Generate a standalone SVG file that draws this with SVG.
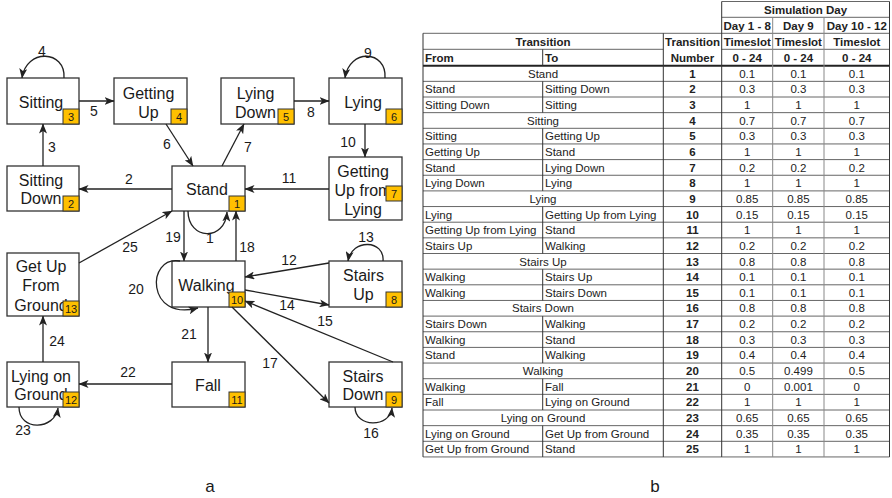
<svg xmlns="http://www.w3.org/2000/svg" width="892" height="498" viewBox="0 0 892 498">
  <style>
    .box { fill: #fff; stroke: #333; stroke-width: 1.3; }
    .badge { fill: #FFC000; stroke: #333; stroke-width: 1; }
    .lbl { font-family: "Liberation Sans", Arial, sans-serif; font-size: 16px; fill: #1a1a1a; text-anchor: middle; }
    .bn { font-family: "Liberation Sans", Arial, sans-serif; font-size: 11px; fill: #1a1a1a; text-anchor: middle; }
    .edge { fill: none; stroke: #222; stroke-width: 1.3; marker-end: url(#arr); }
    .el { font-family: "Liberation Sans", Arial, sans-serif; font-size: 14px; fill: #1a1a1a; text-anchor: middle; }
    .cap { font-family: "Liberation Sans", Arial, sans-serif; font-size: 17px; fill: #1a1a1a; text-anchor: middle; }
    .t { font-family: "Liberation Sans", Arial, sans-serif; font-size: 11.5px; fill: #222; }
    .tc { text-anchor: middle; }
    .b { font-weight: bold; }
    .hl { fill: none; stroke: #666; stroke-width: 1; }
    .vd { fill: none; stroke: #333; stroke-width: 1; }
    .vl { fill: none; stroke: #888; stroke-width: 1; }
  </style>
  <defs>
    <marker id="arr" viewBox="0 0 10 8" refX="9.5" refY="4" markerWidth="10" markerHeight="8" orient="auto" markerUnits="userSpaceOnUse">
      <path d="M0,0 L10,4 L0,8 L2.5,4 Z" fill="#222"/>
    </marker>
  </defs>
  <rect width="892" height="498" fill="#fff"/>

  <!-- state machine nodes -->
  <g id="n-sitting">
    <rect class="box" x="7" y="78" width="72" height="46"/>
    <text class="lbl" x="41" y="108">Sitting</text>
    <rect class="badge" x="63" y="109" width="16" height="15"/>
    <text class="bn" x="71" y="120.5">3</text>
  </g>
  <g id="n-getting-up">
    <rect class="box" x="114" y="78" width="73" height="46"/>
    <text class="lbl" x="148.5" y="98.5">Getting</text>
    <text class="lbl" x="148.5" y="117.5">Up</text>
    <rect class="badge" x="171" y="109" width="16" height="15"/>
    <text class="bn" x="179" y="120.5">4</text>
  </g>
  <g id="n-lying-down">
    <rect class="box" x="221" y="78" width="73" height="46"/>
    <text class="lbl" x="255.5" y="98.5">Lying</text>
    <text class="lbl" x="255.5" y="117.5">Down</text>
    <rect class="badge" x="278" y="109" width="16" height="15"/>
    <text class="bn" x="286" y="120.5">5</text>
  </g>
  <g id="n-lying">
    <rect class="box" x="329" y="78" width="73" height="46"/>
    <text class="lbl" x="363" y="108">Lying</text>
    <rect class="badge" x="386" y="109" width="16" height="15"/>
    <text class="bn" x="394" y="120.5">6</text>
  </g>
  <g id="n-sitting-down">
    <rect class="box" x="7" y="166" width="72" height="45"/>
    <text class="lbl" x="41" y="185.5">Sitting</text>
    <text class="lbl" x="41" y="204">Down</text>
    <rect class="badge" x="63" y="196" width="16" height="15"/>
    <text class="bn" x="71" y="207.5">2</text>
  </g>
  <g id="n-stand">
    <rect class="box" x="172" y="166" width="73" height="45"/>
    <text class="lbl" x="207" y="195">Stand</text>
    <rect class="badge" x="229" y="196" width="16" height="15"/>
    <text class="bn" x="237" y="207.5">1</text>
  </g>
  <g id="n-getting-up-from-lying">
    <rect class="box" x="329" y="157" width="73" height="63"/>
    <text class="lbl" x="363" y="176.5">Getting</text>
    <text class="lbl" x="363" y="195.5">Up from</text>
    <text class="lbl" x="363" y="214.5">Lying</text>
    <rect class="badge" x="386" y="186" width="16" height="15"/>
    <text class="bn" x="394" y="197.5">7</text>
  </g>
  <g id="n-get-up-from-ground">
    <rect class="box" x="7" y="253" width="72" height="63"/>
    <text class="lbl" x="41" y="271.5">Get Up</text>
    <text class="lbl" x="41" y="291">From</text>
    <text class="lbl" x="41" y="310.5">Ground</text>
    <rect class="badge" x="63" y="301" width="16" height="15"/>
    <text class="bn" x="71" y="312.5">13</text>
  </g>
  <g id="n-walking">
    <rect class="box" x="172" y="261" width="73" height="46"/>
    <text class="lbl" x="206.5" y="291">Walking</text>
    <rect class="badge" x="229" y="292" width="16" height="15"/>
    <text class="bn" x="237" y="303.5">10</text>
  </g>
  <g id="n-stairs-up">
    <rect class="box" x="329" y="261" width="73" height="46"/>
    <text class="lbl" x="363.5" y="281">Stairs</text>
    <text class="lbl" x="363.5" y="300">Up</text>
    <rect class="badge" x="386" y="292" width="16" height="15"/>
    <text class="bn" x="394" y="303.5">8</text>
  </g>
  <g id="n-lying-on-ground">
    <rect class="box" x="7" y="362" width="72" height="45"/>
    <text class="lbl" x="41" y="381.5">Lying on</text>
    <text class="lbl" x="41" y="400">Ground</text>
    <rect class="badge" x="63" y="392" width="16" height="15"/>
    <text class="bn" x="71" y="403.5">12</text>
  </g>
  <g id="n-fall">
    <rect class="box" x="172" y="362" width="73" height="45"/>
    <text class="lbl" x="208" y="390.5">Fall</text>
    <rect class="badge" x="229" y="392" width="16" height="15"/>
    <text class="bn" x="237" y="403.5">11</text>
  </g>
  <g id="n-stairs-down">
    <rect class="box" x="329" y="362" width="73" height="45"/>
    <text class="lbl" x="363" y="381.5">Stairs</text>
    <text class="lbl" x="363" y="400">Down</text>
    <rect class="badge" x="386" y="392" width="16" height="15"/>
    <text class="bn" x="394" y="403.5">9</text>
  </g>

  <!-- transitions -->
  <g id="connectors">
    <path class="edge" d="M172,189 L79,189"/>
    <path class="edge" d="M43,166 L43,124"/>
    <path class="edge" d="M64,78 C66,50 26,48 22,78"/>
    <path class="edge" d="M79,101 L114,101"/>
    <path class="edge" d="M166,124 L193,166"/>
    <path class="edge" d="M222,166 L244,124"/>
    <path class="edge" d="M294,101 L329,101"/>
    <path class="edge" d="M385,78 C387,50 349,48 345,78"/>
    <path class="edge" d="M365,124 L365,157"/>
    <path class="edge" d="M329,189 L245,189"/>
    <path class="edge" d="M188,211 C188,240 225,242 227,212"/>
    <path class="edge" d="M329,263 L245,277"/>
    <path class="edge" d="M383,261 C385,240 352,238 348,261"/>
    <path class="edge" d="M245,290 L329,305"/>
    <path class="edge" d="M393,362 L245,301"/>
    <path class="edge" d="M355,407 C355,428 390,428 392,408"/>
    <path class="edge" d="M232,307 L329,403"/>
    <path class="edge" d="M236,261 L236,211"/>
    <path class="edge" d="M184,211 L184,261"/>
    <path class="edge" d="M180,261 C146,255 146,322 198,308"/>
    <path class="edge" d="M208,307 L208,362"/>
    <path class="edge" d="M172,384 L79,384"/>
    <path class="edge" d="M19,407 C19,432 55,430 58,408"/>
    <path class="edge" d="M43,362 L43,316"/>
    <path class="edge" d="M79,263 L172,211"/>

    <text class="el" x="129" y="184">2</text>
    <text class="el" x="52" y="152">3</text>
    <text class="el" x="42" y="56">4</text>
    <text class="el" x="94" y="116">5</text>
    <text class="el" x="167" y="149">6</text>
    <text class="el" x="248" y="152">7</text>
    <text class="el" x="311" y="117">8</text>
    <text class="el" x="368" y="58">9</text>
    <text class="el" x="348" y="147">10</text>
    <text class="el" x="289" y="183">11</text>
    <text class="el" x="210" y="243">1</text>
    <text class="el" x="289" y="265">12</text>
    <text class="el" x="366" y="242">13</text>
    <text class="el" x="287" y="310">14</text>
    <text class="el" x="325" y="326">15</text>
    <text class="el" x="371" y="438">16</text>
    <text class="el" x="270" y="368">17</text>
    <text class="el" x="247" y="252">18</text>
    <text class="el" x="173" y="242">19</text>
    <text class="el" x="136" y="294">20</text>
    <text class="el" x="189" y="339">21</text>
    <text class="el" x="128" y="377">22</text>
    <text class="el" x="23" y="435">23</text>
    <text class="el" x="57" y="346">24</text>
    <text class="el" x="130" y="252">25</text>
  </g>

  <text class="cap" x="210" y="492">a</text>
  <text class="cap" x="655" y="492">b</text>

  <!-- transition probability table -->
  <g id="table">
    <!-- horizontal rules -->
    <path class="hl" d="M721.7,1.5 H889.5 M721.7,17.3 H889.5 M423,33.3 H889.5 M423,49.3 H663.3 M721.7,49.3 H889.5
      M423,81.35 H889.5 M423,97 H889.5 M423,112.65 H889.5 M423,128.3 H889.5 M423,143.95 H889.5
      M423,159.6 H889.5 M423,175.25 H889.5 M423,190.9 H889.5 M423,206.55 H889.5 M423,222.2 H889.5
      M423,237.85 H889.5 M423,253.5 H889.5 M423,269.15 H889.5 M423,284.8 H889.5 M423,300.45 H889.5
      M423,316.1 H889.5 M423,331.75 H889.5 M423,347.4 H889.5 M423,363.05 H889.5 M423,378.7 H889.5
      M423,394.35 H889.5 M423,410 H889.5 M423,425.65 H889.5 M423,441.3 H889.5 M423,456.95 H889.5"/>
    <path d="M423,65.7 H889.5" fill="none" stroke="#222" stroke-width="2"/>
    <!-- vertical rules -->
    <path class="vd" d="M423,33.3 V456.95 M663.3,33.3 V456.95 M721.7,1.5 V456.95 M889.5,1.5 V456.95"/>
    <path class="vl" d="M772.7,17.3 V456.95 M824,17.3 V456.95"/>
    <path class="vd" d="M542.7,49.3 V65.7 M542.7,81.35 V112.65 M542.7,128.3 V190.9 M542.7,206.55 V253.5
      M542.7,269.15 V300.45 M542.7,316.1 V363.05 M542.7,378.7 V410 M542.7,425.65 V456.95"/>

    <!-- header -->
    <text class="t b tc" x="805.6" y="13.5">Simulation Day</text>
    <text class="t b tc" x="747.2" y="29.5">Day 1 - 8</text>
    <text class="t b tc" x="798.4" y="29.5">Day 9</text>
    <text class="t b tc" x="856.8" y="29.5">Day 10 - 12</text>
    <text class="t b tc" x="543" y="45.5">Transition</text>
    <text class="t b" x="425" y="61.5">From</text>
    <text class="t b" x="545" y="61.5">To</text>
    <text class="t b tc" x="692.5" y="45.5">Transition</text>
    <text class="t b tc" x="692.5" y="61.5">Number</text>
    <text class="t b tc" x="747.2" y="45.5">Timeslot</text>
    <text class="t b tc" x="798.4" y="45.5">Timeslot</text>
    <text class="t b tc" x="856.8" y="45.5">Timeslot</text>
    <text class="t b tc" x="747.2" y="61.5">0 - 24</text>
    <text class="t b tc" x="798.4" y="61.5">0 - 24</text>
    <text class="t b tc" x="856.8" y="61.5">0 - 24</text>

    <!-- row 1 -->
    <text class="t tc" x="543" y="77.7">Stand</text>
    <text class="t b tc" x="692.5" y="77.7">1</text>
    <text class="t tc" x="747.2" y="77.7">0.1</text><text class="t tc" x="798.4" y="77.7">0.1</text><text class="t tc" x="856.8" y="77.7">0.1</text>
    <!-- row 2 -->
    <text class="t" x="425" y="93.35">Stand</text><text class="t" x="545" y="93.35">Sitting Down</text>
    <text class="t b tc" x="692.5" y="93.35">2</text>
    <text class="t tc" x="747.2" y="93.35">0.3</text><text class="t tc" x="798.4" y="93.35">0.3</text><text class="t tc" x="856.8" y="93.35">0.3</text>
    <!-- row 3 -->
    <text class="t" x="425" y="109">Sitting Down</text><text class="t" x="545" y="109">Sitting</text>
    <text class="t b tc" x="692.5" y="109">3</text>
    <text class="t tc" x="747.2" y="109">1</text><text class="t tc" x="798.4" y="109">1</text><text class="t tc" x="856.8" y="109">1</text>
    <!-- row 4 -->
    <text class="t tc" x="543" y="124.65">Sitting</text>
    <text class="t b tc" x="692.5" y="124.65">4</text>
    <text class="t tc" x="747.2" y="124.65">0.7</text><text class="t tc" x="798.4" y="124.65">0.7</text><text class="t tc" x="856.8" y="124.65">0.7</text>
    <!-- row 5 -->
    <text class="t" x="425" y="140.3">Sitting</text><text class="t" x="545" y="140.3">Getting Up</text>
    <text class="t b tc" x="692.5" y="140.3">5</text>
    <text class="t tc" x="747.2" y="140.3">0.3</text><text class="t tc" x="798.4" y="140.3">0.3</text><text class="t tc" x="856.8" y="140.3">0.3</text>
    <!-- row 6 -->
    <text class="t" x="425" y="155.95">Getting Up</text><text class="t" x="545" y="155.95">Stand</text>
    <text class="t b tc" x="692.5" y="155.95">6</text>
    <text class="t tc" x="747.2" y="155.95">1</text><text class="t tc" x="798.4" y="155.95">1</text><text class="t tc" x="856.8" y="155.95">1</text>
    <!-- row 7 -->
    <text class="t" x="425" y="171.6">Stand</text><text class="t" x="545" y="171.6">Lying Down</text>
    <text class="t b tc" x="692.5" y="171.6">7</text>
    <text class="t tc" x="747.2" y="171.6">0.2</text><text class="t tc" x="798.4" y="171.6">0.2</text><text class="t tc" x="856.8" y="171.6">0.2</text>
    <!-- row 8 -->
    <text class="t" x="425" y="187.25">Lying Down</text><text class="t" x="545" y="187.25">Lying</text>
    <text class="t b tc" x="692.5" y="187.25">8</text>
    <text class="t tc" x="747.2" y="187.25">1</text><text class="t tc" x="798.4" y="187.25">1</text><text class="t tc" x="856.8" y="187.25">1</text>
    <!-- row 9 -->
    <text class="t tc" x="543" y="202.9">Lying</text>
    <text class="t b tc" x="692.5" y="202.9">9</text>
    <text class="t tc" x="747.2" y="202.9">0.85</text><text class="t tc" x="798.4" y="202.9">0.85</text><text class="t tc" x="856.8" y="202.9">0.85</text>
    <!-- row 10 -->
    <text class="t" x="425" y="218.55">Lying</text><text class="t" x="545" y="218.55">Getting Up from Lying</text>
    <text class="t b tc" x="692.5" y="218.55">10</text>
    <text class="t tc" x="747.2" y="218.55">0.15</text><text class="t tc" x="798.4" y="218.55">0.15</text><text class="t tc" x="856.8" y="218.55">0.15</text>
    <!-- row 11 -->
    <text class="t" x="425" y="234.2">Getting Up from Lying</text><text class="t" x="545" y="234.2">Stand</text>
    <text class="t b tc" x="692.5" y="234.2">11</text>
    <text class="t tc" x="747.2" y="234.2">1</text><text class="t tc" x="798.4" y="234.2">1</text><text class="t tc" x="856.8" y="234.2">1</text>
    <!-- row 12 -->
    <text class="t" x="425" y="249.85">Stairs Up</text><text class="t" x="545" y="249.85">Walking</text>
    <text class="t b tc" x="692.5" y="249.85">12</text>
    <text class="t tc" x="747.2" y="249.85">0.2</text><text class="t tc" x="798.4" y="249.85">0.2</text><text class="t tc" x="856.8" y="249.85">0.2</text>
    <!-- row 13 -->
    <text class="t tc" x="543" y="265.5">Stairs Up</text>
    <text class="t b tc" x="692.5" y="265.5">13</text>
    <text class="t tc" x="747.2" y="265.5">0.8</text><text class="t tc" x="798.4" y="265.5">0.8</text><text class="t tc" x="856.8" y="265.5">0.8</text>
    <!-- row 14 -->
    <text class="t" x="425" y="281.15">Walking</text><text class="t" x="545" y="281.15">Stairs Up</text>
    <text class="t b tc" x="692.5" y="281.15">14</text>
    <text class="t tc" x="747.2" y="281.15">0.1</text><text class="t tc" x="798.4" y="281.15">0.1</text><text class="t tc" x="856.8" y="281.15">0.1</text>
    <!-- row 15 -->
    <text class="t" x="425" y="296.8">Walking</text><text class="t" x="545" y="296.8">Stairs Down</text>
    <text class="t b tc" x="692.5" y="296.8">15</text>
    <text class="t tc" x="747.2" y="296.8">0.1</text><text class="t tc" x="798.4" y="296.8">0.1</text><text class="t tc" x="856.8" y="296.8">0.1</text>
    <!-- row 16 -->
    <text class="t tc" x="543" y="312.45">Stairs Down</text>
    <text class="t b tc" x="692.5" y="312.45">16</text>
    <text class="t tc" x="747.2" y="312.45">0.8</text><text class="t tc" x="798.4" y="312.45">0.8</text><text class="t tc" x="856.8" y="312.45">0.8</text>
    <!-- row 17 -->
    <text class="t" x="425" y="328.1">Stairs Down</text><text class="t" x="545" y="328.1">Walking</text>
    <text class="t b tc" x="692.5" y="328.1">17</text>
    <text class="t tc" x="747.2" y="328.1">0.2</text><text class="t tc" x="798.4" y="328.1">0.2</text><text class="t tc" x="856.8" y="328.1">0.2</text>
    <!-- row 18 -->
    <text class="t" x="425" y="343.75">Walking</text><text class="t" x="545" y="343.75">Stand</text>
    <text class="t b tc" x="692.5" y="343.75">18</text>
    <text class="t tc" x="747.2" y="343.75">0.3</text><text class="t tc" x="798.4" y="343.75">0.3</text><text class="t tc" x="856.8" y="343.75">0.3</text>
    <!-- row 19 -->
    <text class="t" x="425" y="359.4">Stand</text><text class="t" x="545" y="359.4">Walking</text>
    <text class="t b tc" x="692.5" y="359.4">19</text>
    <text class="t tc" x="747.2" y="359.4">0.4</text><text class="t tc" x="798.4" y="359.4">0.4</text><text class="t tc" x="856.8" y="359.4">0.4</text>
    <!-- row 20 -->
    <text class="t tc" x="543" y="375.05">Walking</text>
    <text class="t b tc" x="692.5" y="375.05">20</text>
    <text class="t tc" x="747.2" y="375.05">0.5</text><text class="t tc" x="798.4" y="375.05">0.499</text><text class="t tc" x="856.8" y="375.05">0.5</text>
    <!-- row 21 -->
    <text class="t" x="425" y="390.7">Walking</text><text class="t" x="545" y="390.7">Fall</text>
    <text class="t b tc" x="692.5" y="390.7">21</text>
    <text class="t tc" x="747.2" y="390.7">0</text><text class="t tc" x="798.4" y="390.7">0.001</text><text class="t tc" x="856.8" y="390.7">0</text>
    <!-- row 22 -->
    <text class="t" x="425" y="406.35">Fall</text><text class="t" x="545" y="406.35">Lying on Ground</text>
    <text class="t b tc" x="692.5" y="406.35">22</text>
    <text class="t tc" x="747.2" y="406.35">1</text><text class="t tc" x="798.4" y="406.35">1</text><text class="t tc" x="856.8" y="406.35">1</text>
    <!-- row 23 -->
    <text class="t tc" x="543" y="422">Lying on Ground</text>
    <text class="t b tc" x="692.5" y="422">23</text>
    <text class="t tc" x="747.2" y="422">0.65</text><text class="t tc" x="798.4" y="422">0.65</text><text class="t tc" x="856.8" y="422">0.65</text>
    <!-- row 24 -->
    <text class="t" x="425" y="437.65">Lying on Ground</text><text class="t" x="545" y="437.65">Get Up from Ground</text>
    <text class="t b tc" x="692.5" y="437.65">24</text>
    <text class="t tc" x="747.2" y="437.65">0.35</text><text class="t tc" x="798.4" y="437.65">0.35</text><text class="t tc" x="856.8" y="437.65">0.35</text>
    <!-- row 25 -->
    <text class="t" x="425" y="453.3">Get Up from Ground</text><text class="t" x="545" y="453.3">Stand</text>
    <text class="t b tc" x="692.5" y="453.3">25</text>
    <text class="t tc" x="747.2" y="453.3">1</text><text class="t tc" x="798.4" y="453.3">1</text><text class="t tc" x="856.8" y="453.3">1</text>
  </g>
</svg>
